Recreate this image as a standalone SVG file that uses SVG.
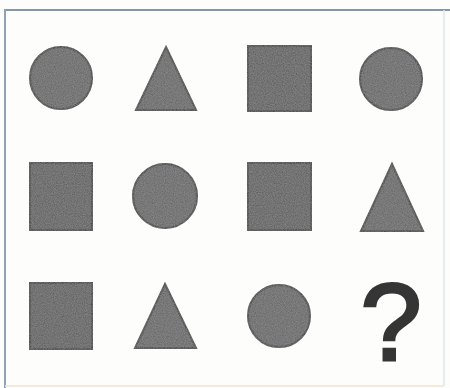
<svg xmlns="http://www.w3.org/2000/svg" width="450" height="388" viewBox="0 0 450 388">
  <defs>
    <filter id="grain" x="-10%" y="-10%" width="120%" height="120%">
      <feTurbulence type="fractalNoise" baseFrequency="0.9" numOctaves="2" seed="3" result="n"/>
      <feColorMatrix in="n" type="matrix" values="0 0 0 0 0.5  0 0 0 0 0.5  0 0 0 0 0.5  0 0 0 0.4 0" result="g"/>
      <feComposite in="g" in2="SourceGraphic" operator="in" result="gm"/>
      <feMerge><feMergeNode in="SourceGraphic"/><feMergeNode in="gm"/></feMerge>
    </filter>
  </defs>
  <style>
    .shape { fill: #5e5e5e; stroke: #333333; stroke-width: 2; filter: url(#grain); }
    .sq { fill: #565656; }
    .q { font-family: "Liberation Sans", Arial, sans-serif; font-weight: normal; font-size: 110px; fill: #353535; stroke: #353535; stroke-width: 3; }
  </style>
  <rect x="0" y="0" width="450" height="388" fill="#fdfdfb"/>
  <g id="frame">
    <line x1="4" y1="10" x2="450" y2="10" stroke="#8596a8" stroke-width="2"/>
    <line x1="5" y1="9" x2="5" y2="388" stroke="#8fa2b6" stroke-width="2"/>
    <line x1="444" y1="10" x2="444" y2="386" stroke="#dde6ee" stroke-width="1.5"/>
    <line x1="5" y1="386" x2="444" y2="386" stroke="#f3e2cc" stroke-width="1.5"/>
  </g>
  <g id="r1c1"><circle class="shape" cx="61" cy="78" r="31"/></g>
  <g id="r1c2"><polygon class="shape" points="166,47 196,110 136,110"/></g>
  <g id="r1c3"><rect class="shape sq" x="248" y="46" width="63" height="65"/></g>
  <g id="r1c4"><circle class="shape" cx="391" cy="79" r="31"/></g>
  <g id="r2c1"><rect class="shape sq" x="30" y="163" width="62" height="67"/></g>
  <g id="r2c2"><circle class="shape" cx="165" cy="196" r="32"/></g>
  <g id="r2c3"><rect class="shape sq" x="248" y="163" width="63" height="67"/></g>
  <g id="r2c4"><polygon class="shape" points="392,164 423,231 361,231"/></g>
  <g id="r3c1"><rect class="shape sq" x="30" y="283" width="62" height="66"/></g>
  <g id="r3c2"><polygon class="shape" points="165,284 196,348 135,348"/></g>
  <g id="r3c3"><circle class="shape" cx="279" cy="316" r="31"/></g>
  <g id="r3c4"><text class="q" x="391" y="360" text-anchor="middle">?</text></g>
</svg>
